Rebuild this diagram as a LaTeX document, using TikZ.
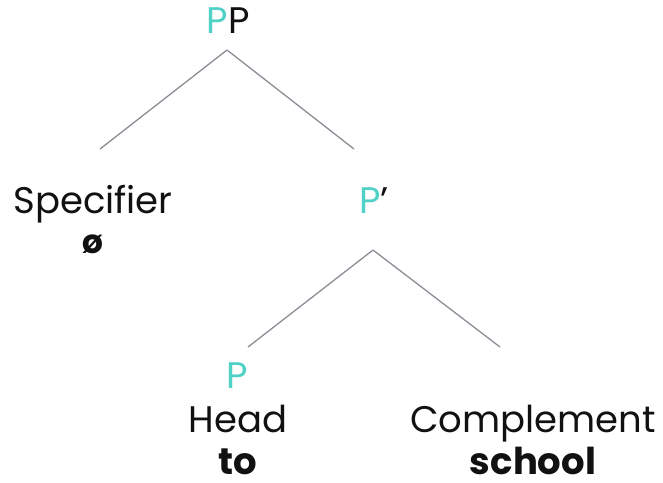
\documentclass[tikz,border=0pt]{standalone}
\usepackage{fontspec}
\setmainfont{Poppins}
\definecolor{teal}{HTML}{4FD1C5}
\definecolor{branch}{HTML}{8A8E94}
\definecolor{ink}{HTML}{111111}
\begin{document}
\begin{tikzpicture}[x=1pt,y=-1pt,
  lbl/.style={anchor=base,inner sep=0pt,text=ink,font=\fontsize{37}{44}\selectfont},
  word/.style={anchor=base,inner sep=0pt,text=ink,text depth=0pt,font=\fontsize{37}{44}\selectfont\bfseries},
  edge/.style={draw=branch,line width=1.3pt}]
\useasboundingbox (0,0) rectangle (663,482);
% top phrase
\node[lbl] (pp) at (228,33) {\textcolor{teal}{P}P};
\coordinate (ppb) at (227,50);
\coordinate (specT) at (100,149);
\coordinate (pbarT) at (354,149);
\draw[edge] (ppb) -- (specT);
\draw[edge] (ppb) -- (pbarT);
% specifier
\node[lbl] (spec) at (93,213) {Specifier};
\node[word,font=\fontsize{33}{38}\selectfont\bfseries] (empty) at (93,253) {ø};
% intermediate projection
\node[lbl] (pbar) at (374,213) {\textcolor{teal}{P}’};
\coordinate (pbarb) at (373,250);
\coordinate (headT) at (248,347);
\coordinate (compT) at (500,347);
\draw[edge] (pbarb) -- (headT);
\draw[edge] (pbarb) -- (compT);
% head and complement
\node[lbl,text=teal] (p) at (237,388) {P};
\node[lbl] (head) at (238,432) {Head};
\node[word] (to) at (238,474) {to};
\node[lbl] (comp) at (533,432) {Complement};
\node[word] (school) at (533,474) {school};
\end{tikzpicture}
\end{document}
